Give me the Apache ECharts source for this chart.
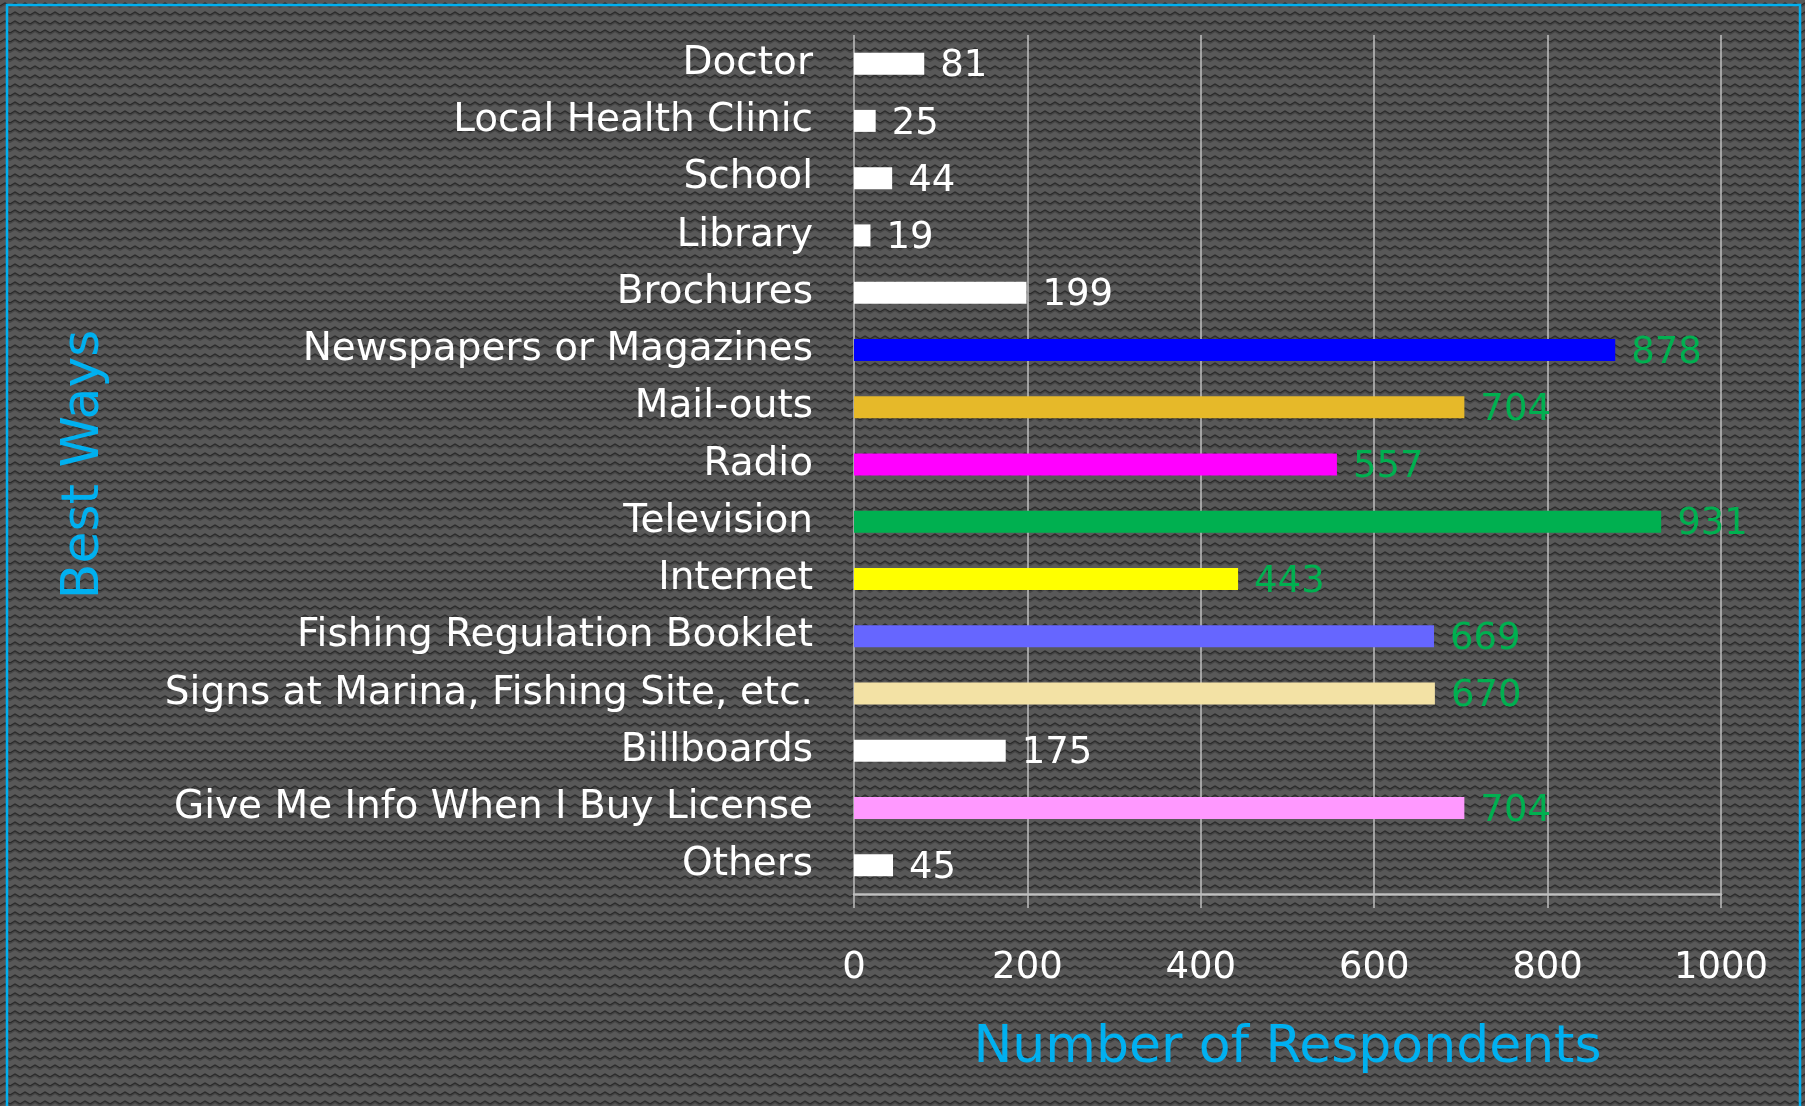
<!DOCTYPE html>
<html lang="en">
<head>
  <meta charset="UTF-8">
  <title>Best Ways</title>
  <style>
    html, body { margin: 0; padding: 0; background: #505050; }
  </style>
</head>
<body>
  <div id="chart" style="width: 1805px; height: 1106px;"></div>

<script src="https://cdn.jsdelivr.net/npm/echarts@6/dist/echarts.min.js"></script>

<script>
  // data
  const categories = [
    'Doctor', 'Local Health Clinic', 'School', 'Library', 'Brochures',
    'Newspapers or Magazines', 'Mail-outs', 'Radio', 'Television', 'Internet',
    'Fishing Regulation Booklet', 'Signs at Marina, Fishing Site, etc.',
    'Billboards', 'Give Me Info When I Buy License', 'Others'
  ];
  const values = [81, 25, 44, 19, 199, 878, 704, 557, 931, 443, 669, 670, 175, 704, 45];
  const barColors = [
    '#ffffff', '#ffffff', '#ffffff', '#ffffff', '#ffffff',
    '#0000ff', '#e6b929', '#ff00ff', '#00b050', '#ffff00',
    '#6666ff', '#f3e2a5', '#ffffff', '#ff99ff', '#ffffff'
  ];
  const labelColors = [
    '#ffffff', '#ffffff', '#ffffff', '#ffffff', '#ffffff',
    '#00b050', '#00b050', '#00b050', '#00b050', '#00b050',
    '#00b050', '#00b050', '#ffffff', '#00b050', '#ffffff'
  ];
  const xTicks = [0, 200, 400, 600, 800, 1000];

  // zigzag texture for the background
  function makeTile() {
    const c = document.createElement('canvas');
    c.width = 10;
    c.height = 9;
    const ctx = c.getContext('2d');
    ctx.fillStyle = '#585858';
    ctx.fillRect(0, 0, 10, 9);
    ctx.strokeStyle = '#444444';
    ctx.lineWidth = 1.2;
    ctx.beginPath();
    ctx.moveTo(0, 7.5);
    ctx.lineTo(5, 4.5);
    ctx.lineTo(10, 7.5);
    ctx.stroke();
    ctx.strokeStyle = '#2a2a2a';
    ctx.lineWidth = 1.4;
    ctx.beginPath();
    ctx.moveTo(0, 6);
    ctx.lineTo(5, 3);
    ctx.lineTo(10, 6);
    ctx.stroke();
    return c;
  }

  const font = 'DejaVu Sans';
  const myChart = echarts.init(document.getElementById('chart'));

  const option = {
    animation: false,
    backgroundColor: '#505050',
    graphic: [
      {
        type: 'rect',
        z: -100,
        silent: true,
        shape: { x: 0, y: 0, width: 1805, height: 1106 },
        style: { fill: { image: makeTile(), repeat: 'repeat' } }
      },
      {
        type: 'rect',
        z: 100,
        silent: true,
        shape: { x: 7, y: 5, width: 1793, height: 1130 },
        style: { fill: 'none', stroke: '#00b0f0', lineWidth: 2.5 }
      }
    ],
    grid: {
      left: 854,
      right: 84,
      top: 35,
      bottom: 212,
      containLabel: false,
      outerBoundsMode: 'none'
    },
    xAxis: {
      type: 'value',
      min: xTicks[0],
      max: xTicks[xTicks.length - 1],
      interval: xTicks[1] - xTicks[0],
      name: 'Number of Respondents',
      nameLocation: 'middle',
      nameGap: 128,
      nameTextStyle: { color: '#00b0f0', fontSize: 52, fontFamily: font },
      axisLine: { show: true, lineStyle: { color: '#bfbfbf', width: 2.5 } },
      axisTick: { show: true, length: 14, lineStyle: { color: '#bfbfbf', width: 1.5 } },
      axisLabel: {
        color: '#ffffff', fontSize: 37, fontFamily: font, margin: 56,
        formatter: function (v) { return String(v); }
      },
      splitLine: { show: true, lineStyle: { color: '#bfbfbf', width: 1.5 } }
    },
    yAxis: {
      type: 'category',
      inverse: true,
      data: categories,
      name: 'Best Ways',
      nameLocation: 'middle',
      nameGap: 744,
      nameRotate: 90,
      nameTextStyle: { color: '#00b0f0', fontSize: 52, fontFamily: font },
      axisLine: { show: false },
      axisTick: { show: false },
      splitLine: { show: false },
      axisLabel: {
        color: '#ffffff', fontSize: 39, fontFamily: font, margin: 41,
        padding: [5, 0, 0, 0]
      }
    },
    series: [
      {
        type: 'bar',
        barWidth: 22,
        data: values.map(function (v, i) {
          return {
            value: v,
            itemStyle: { color: barColors[i] },
            label: { color: labelColors[i] }
          };
        }),
        label: {
          show: true,
          position: 'right',
          distance: 16,
          offset: [0, 3],
          fontSize: 37,
          fontFamily: font
        }
      }
    ]
  };

  myChart.setOption(option);
</script>
</body>
</html>
